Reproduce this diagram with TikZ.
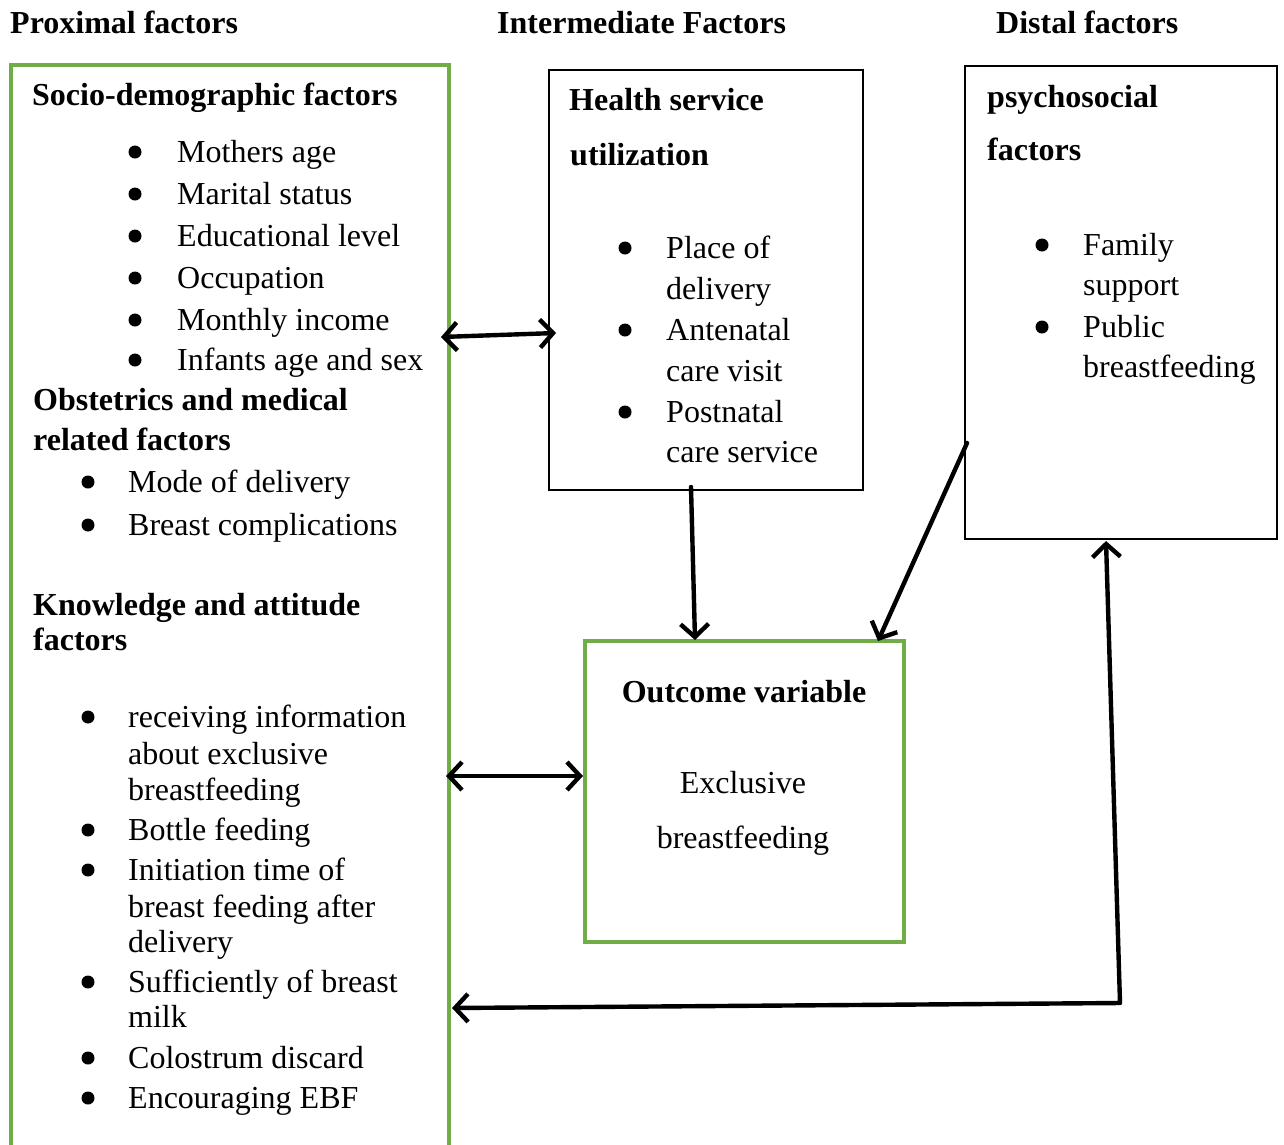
\documentclass[tikz,border=0pt]{standalone}
\usepackage{fontspec}
\setmainfont{Liberation Serif}
\usetikzlibrary{arrows.meta}
\definecolor{boxgreen}{HTML}{70AD47}
\begin{document}
\begin{tikzpicture}[x=1pt,y=-1pt,
  txt/.style={anchor=base west, inner sep=0pt, font=\fontsize{32}{40}\selectfont},
  hd/.style={anchor=base west, inner sep=0pt, font=\fontsize{32}{40}\selectfont\bfseries},
  ctxt/.style={anchor=base, inner sep=0pt, font=\fontsize{32}{40}\selectfont},
  chd/.style={anchor=base, inner sep=0pt, font=\fontsize{32}{40}\selectfont\bfseries},
  bul/.style={circle, fill=black, inner sep=0pt, minimum size=13pt},
  blackbox/.style={draw=black, line width=2.4pt, inner sep=0pt},
  greenbox/.style={draw=boxgreen, line width=3.2pt, inner sep=0pt},
  link/.style={line width=4.4pt, line cap=round, black,
    arrows={-Straight Barb[length=13pt,width=28pt,line width=4.4pt]}},
  dlink/.style={line width=4.4pt, line cap=round, black,
    arrows={Straight Barb[length=13pt,width=28pt,line width=4.4pt]-Straight Barb[length=13pt,width=28pt,line width=4.4pt]}}
]
\useasboundingbox (0,0) rectangle (1284,1144);
\fill[white] (0,0) rectangle (1284,1144);

% column headings
\node[hd] (hprox) at (10,33) {Proximal factors};
\node[hd] (hint) at (497,33) {Intermediate Factors};
\node[hd] (hdist) at (996,33) {Distal factors};

% proximal (open green frame running off the page)
\draw[boxgreen, line width=3.2pt] (11,1150) -- (11,65) -- (449,65) -- (449,1150);

\node[hd] (sdh) at (32,105) {Socio-demographic factors};
\foreach \t/\y [count=\i] in {Mothers age/162, Marital status/204, Educational level/246,
    Occupation/288, Monthly income/330, Infants age and sex/370}{
  \node[bul] (sdb\i) at (135,\y-10) {};
  \node[txt] (sdt\i) at (177,\y) {\t};
}

\node[hd] (obh1) at (33,410) {Obstetrics and medical};
\node[hd] (obh2) at (33,450) {related factors};
\foreach \t/\y [count=\i] in {Mode of delivery/492, Breast complications/535}{
  \node[bul] (obb\i) at (88,\y-10) {};
  \node[txt] (obt\i) at (128,\y) {\t};
}

\node[hd] (kah1) at (33,615) {Knowledge and attitude};
\node[hd] (kah2) at (33,650) {factors};
\foreach \y [count=\i] in {727,840,880,992,1068,1108}{
  \node[bul] (kab\i) at (88,\y-10) {};
}
\foreach \t/\y [count=\i] in {receiving information/727, about exclusive/764, breastfeeding/800,
    Bottle feeding/840, Initiation time of/880, breast feeding after/917, delivery/952,
    Sufficiently of breast/992, milk/1027, Colostrum discard/1068, Encouraging EBF/1108}{
  \node[txt] (kat\i) at (128,\y) {\t};
}

% health service utilization
\node[blackbox, minimum width=314pt, minimum height=420pt] (hsu) at (706,280) {};
\node[hd] (hsuh1) at (569,110) {Health service};
\node[hd] (hsuh2) at (570,165) {utilization};
\foreach \y [count=\i] in {258,340,422}{
  \node[bul] (hsub\i) at (625,\y-10) {};
}
\foreach \t/\y [count=\i] in {Place of/258, delivery/299, Antenatal/340, care visit/381,
    Postnatal/422, care service/462}{
  \node[txt] (hsut\i) at (666,\y) {\t};
}

% psychosocial
\node[blackbox, minimum width=312pt, minimum height=473pt] (psy) at (1121,302.5) {};
\node[hd] (psyh1) at (987,107) {psychosocial};
\node[hd] (psyh2) at (987,160) {factors};
\foreach \y [count=\i] in {255,337}{
  \node[bul] (psyb\i) at (1042,\y-10) {};
}
\foreach \t/\y [count=\i] in {Family/255, support/295, Public/337, breastfeeding/377}{
  \node[txt] (psyt\i) at (1083,\y) {\t};
}

% outcome
\node[greenbox, minimum width=319pt, minimum height=301pt] (out) at (744.5,791.5) {};
\node[chd] (outh) at (744,702) {Outcome variable};
\node[ctxt] (outt1) at (743,793) {Exclusive};
\node[ctxt] (outt2) at (743,848) {breastfeeding};

% connector end points
\coordinate (a1l) at (441,337);
\coordinate (a1r) at (556,333);
\coordinate (a2t) at (691,487);
\coordinate (a2b) at (695,640);
\coordinate (a3t) at (967,443);
\coordinate (a3b) at (878,641);
\coordinate (a4l) at (452,1008);
\coordinate (a4c) at (1120,1003);
\coordinate (a4t) at (1106,541);
\coordinate (a5l) at (446,776);
\coordinate (a5r) at (583,776);

\draw[dlink] (a1l) -- (a1r);
\draw[link] (a2t) -- (a2b);
\draw[link] (a3t) -- (a3b);
\draw[dlink, line join=round] (a4l) -- (a4c) -- (a4t);
\draw[dlink] (a5l) -- (a5r);
\end{tikzpicture}
\end{document}
